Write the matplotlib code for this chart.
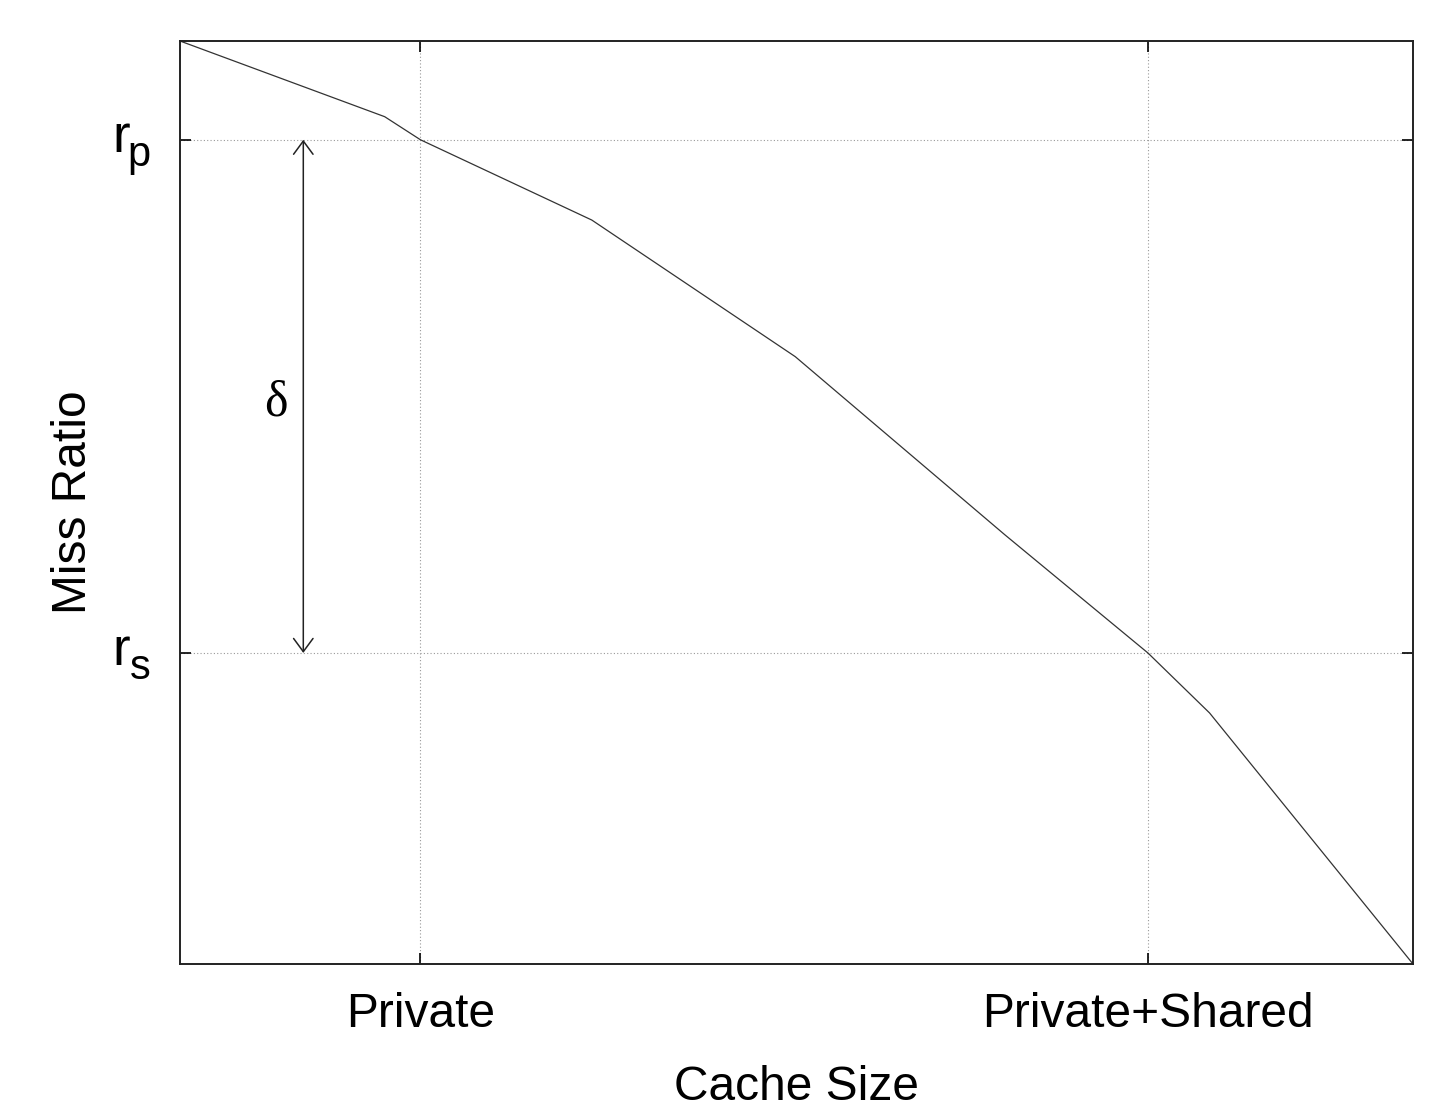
import matplotlib
matplotlib.use("Agg")
import matplotlib.pyplot as plt
from matplotlib.transforms import blended_transform_factory

# miss ratio curve, cache size on a 0..100 scale
cache_size = [0, 16.6, 19.5, 33.4, 49.9, 66.9, 78.5, 83.5, 100]
miss_ratio = [100, 91.8, 89.3, 80.6, 65.8, 46.5, 33.7, 27.2, 0]

x_ticks = [19.5, 78.5]
x_labels = ["Private", "Private+Shared"]
y_ticks = [33.7, 89.3]
y_subs = ["s", "p"]
delta_x = 10.0

plt.rcParams["font.family"] = ["Liberation Sans", "DejaVu Sans"]

fig = plt.figure(figsize=(14.48, 11.07), dpi=100)
ax = fig.add_axes([180 / 1448, 1 - 964 / 1107, 1233 / 1448, 923 / 1107])

ax.plot(cache_size, miss_ratio, color="#333333", lw=0.9)
ax.set_xlim(0, 100)
ax.set_ylim(0, 100)

ax.set_xticks(x_ticks)
ax.set_xticklabels(x_labels, fontsize=34.5)
ax.set_yticks(y_ticks)
ax.set_yticklabels([])
ax.tick_params(direction="in", length=8, width=1.2, top=True, right=True)
ax.tick_params(axis="x", pad=20)
ax.grid(True, color="#999999", ls=(0, (1, 2)), lw=0.8)
for sp in ax.spines.values():
    sp.set_linewidth(1.4)
    sp.set_color("#222222")

# y tick labels: r with a subscript
trans = blended_transform_factory(ax.transAxes, ax.transData)
for yt, sub in zip(y_ticks, y_subs):
    ax.annotate("r", xy=(0, yt), xycoords=trans, xytext=(-50, -12),
                textcoords="offset pixels", ha="right", va="baseline",
                fontsize=38, annotation_clip=False)
    ax.annotate(sub, xy=(0, yt), xycoords=trans, xytext=(-29, -26),
                textcoords="offset pixels", ha="right", va="baseline",
                fontsize=30, annotation_clip=False)

ax.set_xlabel("Cache Size", fontsize=34.5, labelpad=20)
ax.set_ylabel("Miss Ratio", fontsize=34.5, labelpad=57)

# gap between private and shared miss ratio
ax.annotate("", xy=(delta_x, y_ticks[1]), xytext=(delta_x, y_ticks[0]),
            arrowprops=dict(arrowstyle="<->,head_length=0.95,head_width=0.7",
                            color="#222222", lw=1.1, shrinkA=0, shrinkB=0))
ax.text(7.8, 60.8, "δ", fontsize=36, ha="center", va="center",
        family="Liberation Serif")

fig.savefig("out.png", dpi=100)
